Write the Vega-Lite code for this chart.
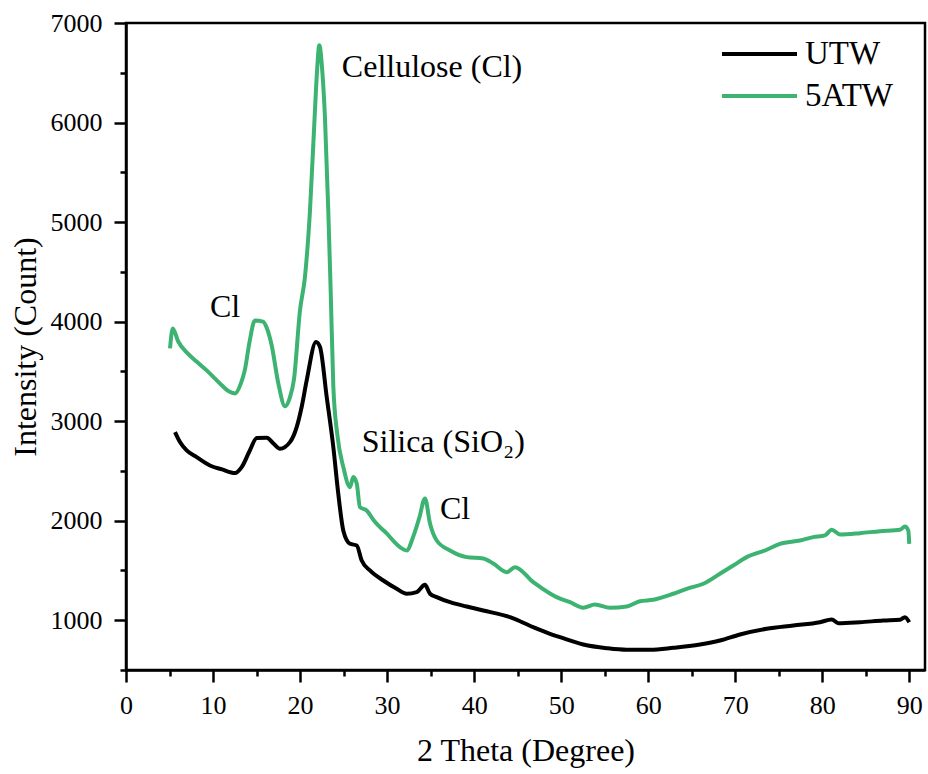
{
  "$schema": "https://vega.github.io/schema/vega-lite/v6.json",
  "autosize": {"type": "none"},
  "width": 799,
  "height": 647,
  "padding": {"left": 126, "top": 23, "right": 3, "bottom": 104},
  "background": "white",
  "config": {
    "font": "Liberation Serif",
    "view": {"stroke": "black", "strokeWidth": 2.5},
    "axis": {"grid": false, "domainColor": "black", "domainWidth": 2.5, "tickColor": "black", "tickWidth": 2.5, "labelColor": "black", "titleColor": "black", "labelFont": "Liberation Serif", "titleFont": "Liberation Serif", "titleFontWeight": "normal"},
    "legend": {"labelFont": "Liberation Serif"},
    "text": {"font": "Liberation Serif"}
  },
  "datasets": {
    "xrd": [
      {"series": "5ATW", "x": 5.06, "y": 3731},
      {"series": "5ATW", "x": 5.37, "y": 3932},
      {"series": "5ATW", "x": 6.0, "y": 3800},
      {"series": "5ATW", "x": 6.97, "y": 3691},
      {"series": "5ATW", "x": 8.1, "y": 3600},
      {"series": "5ATW", "x": 9.27, "y": 3510},
      {"series": "5ATW", "x": 10.2, "y": 3430},
      {"series": "5ATW", "x": 11.0, "y": 3360},
      {"series": "5ATW", "x": 11.8, "y": 3300},
      {"series": "5ATW", "x": 12.52, "y": 3279},
      {"series": "5ATW", "x": 13.2, "y": 3380},
      {"series": "5ATW", "x": 13.67, "y": 3520},
      {"series": "5ATW", "x": 14.2, "y": 3800},
      {"series": "5ATW", "x": 14.82, "y": 4012},
      {"series": "5ATW", "x": 15.74, "y": 4000},
      {"series": "5ATW", "x": 16.2, "y": 3930},
      {"series": "5ATW", "x": 16.74, "y": 3760},
      {"series": "5ATW", "x": 17.5, "y": 3380},
      {"series": "5ATW", "x": 18.27, "y": 3150},
      {"series": "5ATW", "x": 18.8, "y": 3230},
      {"series": "5ATW", "x": 19.3, "y": 3420},
      {"series": "5ATW", "x": 19.99, "y": 4113},
      {"series": "5ATW", "x": 20.56, "y": 4448},
      {"series": "5ATW", "x": 21.14, "y": 5118},
      {"series": "5ATW", "x": 21.71, "y": 6123},
      {"series": "5ATW", "x": 21.95, "y": 6520},
      {"series": "5ATW", "x": 22.21, "y": 6776},
      {"series": "5ATW", "x": 22.55, "y": 6520},
      {"series": "5ATW", "x": 22.86, "y": 6050},
      {"series": "5ATW", "x": 23.24, "y": 5118},
      {"series": "5ATW", "x": 23.52, "y": 4300},
      {"series": "5ATW", "x": 23.82, "y": 3350},
      {"series": "5ATW", "x": 24.3, "y": 2850},
      {"series": "5ATW", "x": 24.97, "y": 2538},
      {"series": "5ATW", "x": 25.74, "y": 2337},
      {"series": "5ATW", "x": 26.11, "y": 2438},
      {"series": "5ATW", "x": 26.51, "y": 2374},
      {"series": "5ATW", "x": 26.88, "y": 2136},
      {"series": "5ATW", "x": 27.65, "y": 2103},
      {"series": "5ATW", "x": 28.5, "y": 2000},
      {"series": "5ATW", "x": 29.18, "y": 1935},
      {"series": "5ATW", "x": 29.95, "y": 1872},
      {"series": "5ATW", "x": 30.8, "y": 1790},
      {"series": "5ATW", "x": 31.48, "y": 1734},
      {"series": "5ATW", "x": 32.25, "y": 1701},
      {"series": "5ATW", "x": 33.0, "y": 1840},
      {"series": "5ATW", "x": 33.7, "y": 2030},
      {"series": "5ATW", "x": 34.35, "y": 2224},
      {"series": "5ATW", "x": 34.93, "y": 1972},
      {"series": "5ATW", "x": 35.7, "y": 1801},
      {"series": "5ATW", "x": 37.23, "y": 1701},
      {"series": "5ATW", "x": 39.14, "y": 1634},
      {"series": "5ATW", "x": 41.05, "y": 1621},
      {"series": "5ATW", "x": 42.2, "y": 1570},
      {"series": "5ATW", "x": 43.74, "y": 1483},
      {"series": "5ATW", "x": 44.69, "y": 1533},
      {"series": "5ATW", "x": 46.79, "y": 1382},
      {"series": "5ATW", "x": 48.71, "y": 1269},
      {"series": "5ATW", "x": 49.48, "y": 1232},
      {"series": "5ATW", "x": 51.01, "y": 1181},
      {"series": "5ATW", "x": 52.54, "y": 1125},
      {"series": "5ATW", "x": 53.88, "y": 1158},
      {"series": "5ATW", "x": 55.6, "y": 1125},
      {"series": "5ATW", "x": 57.53, "y": 1138},
      {"series": "5ATW", "x": 59.05, "y": 1191},
      {"series": "5ATW", "x": 60.58, "y": 1206},
      {"series": "5ATW", "x": 62.88, "y": 1266},
      {"series": "5ATW", "x": 64.42, "y": 1316},
      {"series": "5ATW", "x": 66.33, "y": 1366},
      {"series": "5ATW", "x": 68.24, "y": 1467},
      {"series": "5ATW", "x": 69.77, "y": 1550},
      {"series": "5ATW", "x": 71.31, "y": 1634},
      {"series": "5ATW", "x": 73.61, "y": 1708},
      {"series": "5ATW", "x": 75.14, "y": 1768},
      {"series": "5ATW", "x": 77.44, "y": 1801},
      {"series": "5ATW", "x": 78.96, "y": 1835},
      {"series": "5ATW", "x": 80.31, "y": 1852},
      {"series": "5ATW", "x": 81.08, "y": 1909},
      {"series": "5ATW", "x": 82.03, "y": 1862},
      {"series": "5ATW", "x": 84.33, "y": 1875},
      {"series": "5ATW", "x": 86.63, "y": 1895},
      {"series": "5ATW", "x": 88.93, "y": 1909},
      {"series": "5ATW", "x": 89.5, "y": 1942},
      {"series": "5ATW", "x": 89.88, "y": 1902},
      {"series": "5ATW", "x": 89.99, "y": 1768},
      {"series": "UTW", "x": 5.63, "y": 2890},
      {"series": "UTW", "x": 6.2, "y": 2790},
      {"series": "UTW", "x": 6.97, "y": 2706},
      {"series": "UTW", "x": 8.12, "y": 2639},
      {"series": "UTW", "x": 9.65, "y": 2555},
      {"series": "UTW", "x": 11.03, "y": 2515},
      {"series": "UTW", "x": 12.52, "y": 2478},
      {"series": "UTW", "x": 13.29, "y": 2538},
      {"series": "UTW", "x": 14.2, "y": 2700},
      {"series": "UTW", "x": 15.02, "y": 2830},
      {"series": "UTW", "x": 16.17, "y": 2834},
      {"series": "UTW", "x": 17.0, "y": 2770},
      {"series": "UTW", "x": 17.69, "y": 2723},
      {"series": "UTW", "x": 18.84, "y": 2789},
      {"series": "UTW", "x": 19.61, "y": 2940},
      {"series": "UTW", "x": 20.2, "y": 3150},
      {"series": "UTW", "x": 20.76, "y": 3409},
      {"series": "UTW", "x": 21.83, "y": 3794},
      {"series": "UTW", "x": 22.29, "y": 3744},
      {"series": "UTW", "x": 23.06, "y": 3242},
      {"series": "UTW", "x": 23.82, "y": 2739},
      {"series": "UTW", "x": 24.39, "y": 2271},
      {"series": "UTW", "x": 24.97, "y": 1900},
      {"series": "UTW", "x": 25.74, "y": 1768},
      {"series": "UTW", "x": 26.51, "y": 1751},
      {"series": "UTW", "x": 27.08, "y": 1600},
      {"series": "UTW", "x": 28.03, "y": 1500},
      {"series": "UTW", "x": 29.56, "y": 1399},
      {"series": "UTW", "x": 31.1, "y": 1316},
      {"series": "UTW", "x": 32.25, "y": 1266},
      {"series": "UTW", "x": 33.4, "y": 1282},
      {"series": "UTW", "x": 34.35, "y": 1356},
      {"series": "UTW", "x": 34.93, "y": 1266},
      {"series": "UTW", "x": 35.7, "y": 1232},
      {"series": "UTW", "x": 37.23, "y": 1181},
      {"series": "UTW", "x": 39.14, "y": 1138},
      {"series": "UTW", "x": 41.05, "y": 1098},
      {"series": "UTW", "x": 44.12, "y": 1031},
      {"series": "UTW", "x": 46.79, "y": 930},
      {"series": "UTW", "x": 48.71, "y": 864},
      {"series": "UTW", "x": 49.86, "y": 830},
      {"series": "UTW", "x": 52.54, "y": 756},
      {"series": "UTW", "x": 55.23, "y": 719},
      {"series": "UTW", "x": 57.53, "y": 703},
      {"series": "UTW", "x": 60.2, "y": 703},
      {"series": "UTW", "x": 62.88, "y": 723},
      {"series": "UTW", "x": 65.95, "y": 756},
      {"series": "UTW", "x": 68.24, "y": 796},
      {"series": "UTW", "x": 70.54, "y": 857},
      {"series": "UTW", "x": 73.61, "y": 914},
      {"series": "UTW", "x": 76.67, "y": 947},
      {"series": "UTW", "x": 79.73, "y": 980},
      {"series": "UTW", "x": 81.08, "y": 1008},
      {"series": "UTW", "x": 81.84, "y": 970},
      {"series": "UTW", "x": 84.33, "y": 980},
      {"series": "UTW", "x": 87.01, "y": 997},
      {"series": "UTW", "x": 88.93, "y": 1005},
      {"series": "UTW", "x": 89.5, "y": 1031},
      {"series": "UTW", "x": 89.99, "y": 980}
    ],
    "notes": [
      {"label": "Cellulose (Cl)", "x": 24.8, "y": 6455},
      {"label": "Cl", "x": 9.65, "y": 4046},
      {"label": "Silica (SiO₂)", "x": 27.08, "y": 2689},
      {"label": "Cl", "x": 36.08, "y": 2020}
    ]
  },
  "layer": [
    {
      "data": {"name": "xrd"},
      "mark": {"type": "line", "strokeWidth": 4, "interpolate": "monotone", "clip": true},
      "encoding": {
        "x": {
          "field": "x", "type": "quantitative",
          "scale": {"domain": [0, 91.8], "nice": false, "zero": false},
          "axis": {
            "values": [0, 5, 10, 15, 20, 25, 30, 35, 40, 45, 50, 55, 60, 65, 70, 75, 80, 85, 90],
            "labelExpr": "datum.value % 10 === 0 ? datum.label : ''",
            "tickSize": {"condition": {"test": "datum.value % 10 === 0", "value": 12}, "value": 6},
            "labelFont": "Liberation Serif",
            "labelFontSize": 26, "labelPadding": 10, "labelFlush": false,
            "title": "2 Theta (Degree)", "titleFont": "Liberation Serif", "titleFontSize": 32, "titleY": 90, "titleBaseline": "alphabetic"
          }
        },
        "y": {
          "field": "y", "type": "quantitative",
          "scale": {"domain": [500, 7000], "nice": false, "zero": false},
          "axis": {
            "values": [500, 1000, 1500, 2000, 2500, 3000, 3500, 4000, 4500, 5000, 5500, 6000, 6500, 7000],
            "format": "d",
            "labelExpr": "datum.value % 1000 === 0 ? datum.label : ''",
            "tickSize": {"condition": {"test": "datum.value % 1000 === 0", "value": 12}, "value": 6},
            "labelFont": "Liberation Serif",
            "labelFontSize": 26, "labelPadding": 12, "labelFlush": false,
            "title": "Intensity (Count)", "titleFont": "Liberation Serif", "titleFontSize": 32, "titleX": -91, "titleBaseline": "alphabetic"
          }
        },
        "color": {
          "field": "series", "type": "nominal",
          "scale": {"domain": ["UTW", "5ATW"], "range": ["#000000", "#3cb371"]},
          "legend": {
            "title": null, "orient": "none", "legendX": 594, "legendY": 10,
            "symbolType": "stroke", "symbolSize": 5625, "symbolStrokeWidth": 4,
            "labelFontSize": 33, "labelFont": "Liberation Serif", "labelColor": "black", "labelOffset": 6,
            "clipHeight": 42, "rowPadding": 0, "padding": 0
          }
        },
        "order": {"field": "x", "type": "quantitative"}
      }
    },
    {
      "data": {"name": "notes"},
      "mark": {"type": "text", "align": "left", "baseline": "alphabetic", "fontSize": 32, "font": "Liberation Serif", "color": "black"},
      "encoding": {
        "x": {"field": "x", "type": "quantitative"},
        "y": {"field": "y", "type": "quantitative"},
        "text": {"field": "label"}
      }
    }
  ]
}
